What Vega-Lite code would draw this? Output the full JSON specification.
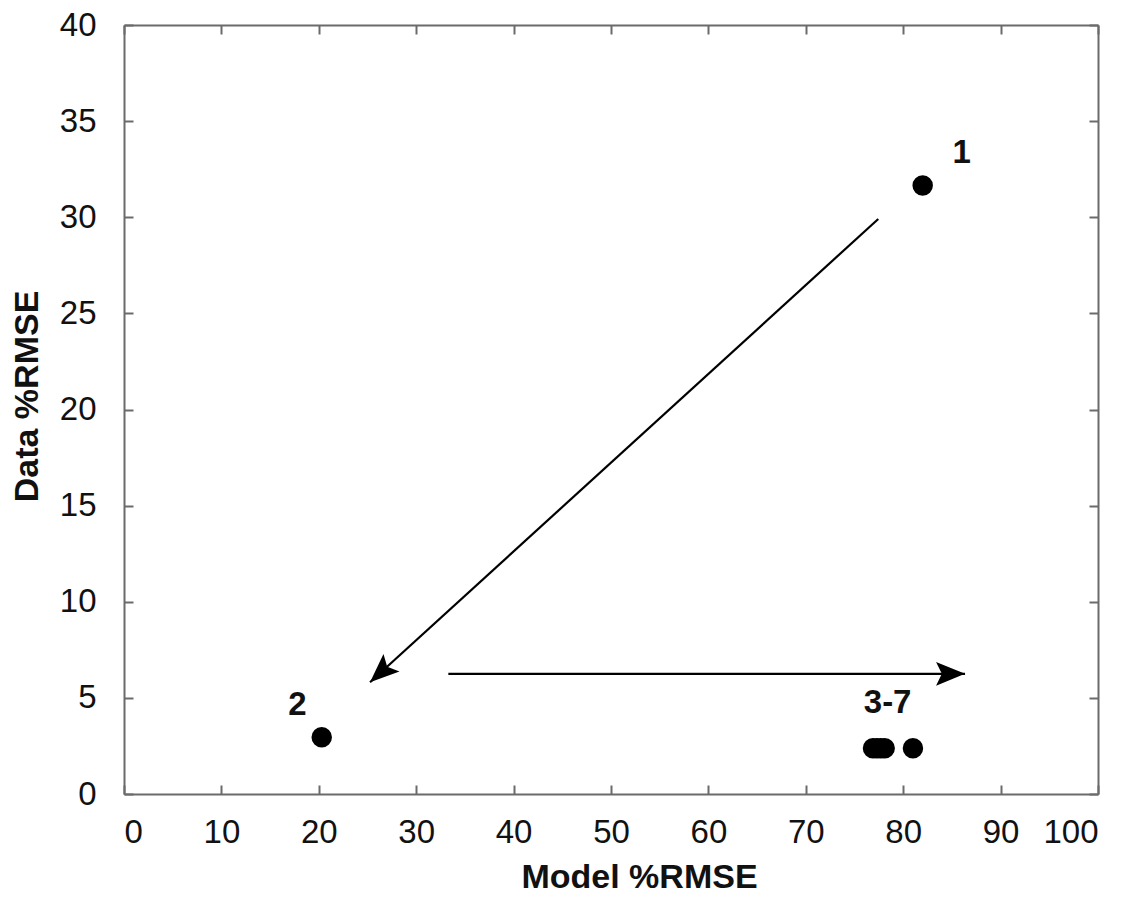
{
  "$schema": "https://vega.github.io/schema/vega-lite/v6.json",
  "width": 974,
  "height": 769,
  "autosize": {"type": "none"},
  "padding": {"left": 124, "top": 25, "right": 45, "bottom": 103},
  "background": "white",
  "config": {
    "view": {"stroke": null},
    "font": "Liberation Sans",
    "axis": {
      "domainColor": "#6b6b6b",
      "domainWidth": 2,
      "tickColor": "#6b6b6b",
      "tickWidth": 2,
      "tickSize": -9,
      "grid": false,
      "labelFont": "Liberation Sans",
      "labelFontSize": 33,
      "labelColor": "#111111",
      "titleFont": "Liberation Sans",
      "titleFontSize": 34,
      "titleFontWeight": "bold",
      "titleColor": "#111111"
    }
  },
  "datasets": {
    "runs": [
      {"model": 82.0, "data": 31.65, "run": "1"},
      {"model": 20.3, "data": 2.95, "run": "2"},
      {"model": 76.9, "data": 2.38, "run": "3"},
      {"model": 77.3, "data": 2.38, "run": "4"},
      {"model": 77.7, "data": 2.38, "run": "5"},
      {"model": 78.1, "data": 2.38, "run": "6"},
      {"model": 81.0, "data": 2.38, "run": "7"}
    ],
    "labels": [
      {"label": "1", "model": 86.0, "data": 32.84},
      {"label": "2", "model": 17.8, "data": 4.11},
      {"label": "3-7", "model": 78.4, "data": 4.2}
    ],
    "arrows": [
      {"arrow": "a", "x1": 77.44, "y1": 29.91, "x2": 25.26, "y2": 5.81},
      {"arrow": "b", "x1": 33.3, "y1": 6.25, "x2": 86.35, "y2": 6.25}
    ]
  },
  "layer": [
    {
      "data": {"name": "runs"},
      "mark": {"type": "point", "shape": "circle", "filled": true, "color": "black", "opacity": 1, "size": 420},
      "encoding": {
        "x": {
          "field": "model", "type": "quantitative",
          "scale": {"domain": [0, 100], "nice": false},
          "axis": {
            "orient": "bottom", "values": [0,10,20,30,40,50,60,70,80,90,100],
            "labelPadding": 31, "title": "Model %RMSE",
            "titleX": 515, "titleY": 93, "titleBaseline": "alphabetic", "titleAlign": "center"
          }
        },
        "y": {
          "field": "data", "type": "quantitative",
          "scale": {"domain": [0, 40], "nice": false},
          "axis": {
            "orient": "left", "values": [0,5,10,15,20,25,30,35,40],
            "labelPadding": 37, "title": "Data %RMSE",
            "titleX": -87, "titleY": 371, "titleBaseline": "alphabetic", "titleAlign": "center", "titleAngle": 270
          }
        }
      }
    },
    {
      "data": {"name": "arrows"},
      "mark": {"type": "rule", "color": "black", "strokeWidth": 2.2},
      "encoding": {
        "x": {"field": "x1", "type": "quantitative", "axis": {"orient": "top", "values": [0,10,20,30,40,50,60,70,80,90,100], "labels": false, "title": null}},
        "y": {"field": "y1", "type": "quantitative", "axis": {"orient": "right", "values": [0,5,10,15,20,25,30,35,40], "labels": false, "title": null}},
        "x2": {"field": "x2"},
        "y2": {"field": "y2"}
      }
    },
    {
      "data": {"name": "arrows"},
      "transform": [{"filter": "datum.arrow === 'a'"}],
      "mark": {"type": "point", "shape": "M0,0 L-2,-0.82 L-1.6,0 L-2,0.82 Z", "filled": true, "color": "black", "opacity": 1, "size": 841, "angle": 137.7},
      "encoding": {
        "x": {"field": "x2", "type": "quantitative", "axis": null},
        "y": {"field": "y2", "type": "quantitative", "axis": null}
      }
    },
    {
      "data": {"name": "arrows"},
      "transform": [{"filter": "datum.arrow === 'b'"}],
      "mark": {"type": "point", "shape": "M0,0 L-2,-0.82 L-1.6,0 L-2,0.82 Z", "filled": true, "color": "black", "opacity": 1, "size": 841, "angle": 0},
      "encoding": {
        "x": {"field": "x2", "type": "quantitative", "axis": null},
        "y": {"field": "y2", "type": "quantitative", "axis": null}
      }
    },
    {
      "data": {"name": "labels"},
      "mark": {"type": "text", "font": "Liberation Sans", "fontSize": 33, "fontWeight": "bold", "color": "#111111", "align": "center", "baseline": "alphabetic"},
      "encoding": {
        "x": {"field": "model", "type": "quantitative", "axis": null},
        "y": {"field": "data", "type": "quantitative", "axis": null},
        "text": {"field": "label"}
      }
    }
  ],
  "resolve": {"axis": {"x": "independent", "y": "independent"}}
}
